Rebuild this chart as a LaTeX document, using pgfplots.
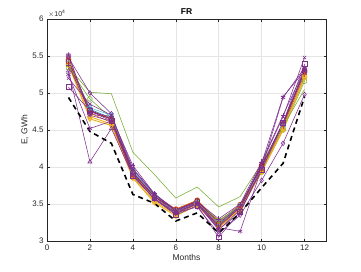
\documentclass[border=0pt]{standalone}
\usepackage{pgfplots}
\pgfplotsset{compat=1.18}
\usepackage{fontspec}
\setmainfont{Liberation Sans}
\definecolor{mb}{rgb}{0,0.447,0.741}
\definecolor{mo}{rgb}{0.85,0.325,0.098}
\definecolor{my}{rgb}{0.929,0.694,0.125}
\definecolor{mp}{rgb}{0.494,0.184,0.556}
\definecolor{mg}{rgb}{0.466,0.674,0.188}
\definecolor{ml}{rgb}{0.301,0.745,0.933}
\definecolor{mr}{rgb}{0.635,0.078,0.184}
\definecolor{ax}{rgb}{0.15,0.15,0.15}
\begin{document}
\begin{tikzpicture}
\useasboundingbox (-47pt,-30pt) rectangle (314pt,241pt);
\begin{axis}[
  at={(0,0)}, anchor=south west,
  scale only axis, width=279pt, height=222pt,
  xmin=0, xmax=13, ymin=3, ymax=6,
  xtick={0,2,4,6,8,10,12},
  ytick={3,3.5,4,4.5,5,5.5,6},
  yticklabel style={/pgf/number format/fixed},
  /pgf/number format/assume math mode=true,
  tick align=inside, tick style={ax, line width=0.4pt}, major tick length=2.5pt,
  axis line style={ax, line width=0.4pt},
  grid=major, grid style={gray!20, line width=0.4pt},
  ticklabel style={font=\fontsize{8}{9}\selectfont, text=ax},
  xlabel={Months}, ylabel={E, GWh},
  label style={font=\fontsize{8.5}{10}\selectfont, text=ax},
  xlabel style={yshift=3pt}, ylabel style={yshift=-3pt},
  title={\textbf{FR}}, title style={font=\fontsize{8.5}{10}\selectfont, yshift=-5pt},
  every axis plot/.append style={line width=0.55pt, mark size=2.4pt},
  clip=false,
]
\addplot[mb, mark=o] coordinates {(1,5.42)(2,4.78)(3,4.66)(4,3.92)(5,3.60)(6,3.40)(7,3.53)(8,3.22)(9,3.47)(10,3.99)(11,4.57)(12,5.28)};
\addplot[mo, mark=o, line width=0.9pt] coordinates {(1,5.45)(2,4.76)(3,4.65)(4,3.90)(5,3.61)(6,3.43)(7,3.55)(8,3.26)(9,3.49)(10,4.00)(11,4.58)(12,5.30)};
\addplot[my, mark=o, line width=0.9pt] coordinates {(1,5.38)(2,4.68)(3,4.58)(4,3.86)(5,3.54)(6,3.36)(7,3.50)(8,3.19)(9,3.44)(10,3.95)(11,4.52)(12,5.22)};
\addplot[mp, mark=o] coordinates {(1,5.50)(2,4.72)(3,4.66)(4,3.95)(5,3.62)(6,3.40)(7,3.54)(8,3.18)(9,3.46)(10,4.02)(11,4.60)(12,5.32)};
\addplot[mg, mark=o] coordinates {(1,5.34)(2,4.92)(3,4.66)(4,3.92)(5,3.62)(6,3.40)(7,3.53)(8,3.28)(9,3.47)(10,3.93)(11,4.50)(12,5.16)};
\addplot[ml, mark=o] coordinates {(1,5.40)(2,4.80)(3,4.70)(4,3.95)(5,3.62)(6,3.41)(7,3.52)(8,3.25)(9,3.48)(10,3.98)(11,4.55)(12,5.27)};
\addplot[mr, mark=o] coordinates {(1,5.43)(2,4.77)(3,4.64)(4,3.93)(5,3.60)(6,3.42)(7,3.54)(8,3.24)(9,3.47)(10,4.02)(11,4.58)(12,5.29)};
\addplot[my, mark=diamond, line width=0.9pt] coordinates {(1,5.38)(2,4.65)(3,4.56)(4,3.85)(5,3.52)(6,3.34)(7,3.48)(8,3.18)(9,3.42)(10,3.93)(11,4.50)(12,5.20)};
\addplot[mo, mark=+] coordinates {(1,5.40)(2,4.73)(3,4.60)(4,3.88)(5,3.58)(6,3.38)(7,3.52)(8,3.21)(9,3.45)(10,3.96)(11,4.55)(12,5.25)};
\addplot[mg, mark=none] coordinates {(1,5.35)(2,5.01)(3,4.99)(4,4.20)(5,3.90)(6,3.58)(7,3.73)(8,3.46)(9,3.60)(10,4.05)(11,4.55)(12,5.05)};
\addplot[mp, mark=x] coordinates {(1,5.20)(2,4.85)(3,4.70)(4,3.98)(5,3.64)(6,3.40)(7,3.50)(8,3.15)(9,3.42)(10,4.05)(11,4.68)(12,5.48)};
\addplot[mp, mark=square] coordinates {(1,5.08)(2,4.76)(3,4.62)(4,3.88)(5,3.58)(6,3.35)(7,3.48)(8,3.05)(9,3.40)(10,3.96)(11,4.60)(12,5.39)};
\addplot[mp, mark=diamond] coordinates {(1,5.48)(2,5.00)(3,4.72)(4,3.92)(5,3.60)(6,3.38)(7,3.46)(8,3.10)(9,3.35)(10,3.82)(11,4.32)(12,4.98)};
\addplot[mp, mark=asterisk] coordinates {(1,5.25)(2,4.52)(3,4.62)(4,3.90)(5,3.56)(6,3.37)(7,3.50)(8,3.18)(9,3.13)(10,3.98)(11,4.94)(12,5.34)};
\addplot[mp, mark=triangle] coordinates {(1,5.30)(2,4.07)(3,4.52)(4,3.88)(5,3.57)(6,3.38)(7,3.51)(8,3.16)(9,3.38)(10,4.00)(11,4.60)(12,5.30)};
\addplot[mp, mark=+] coordinates {(1,5.38)(2,4.74)(3,4.68)(4,4.02)(5,3.64)(6,3.42)(7,3.53)(8,3.30)(9,3.50)(10,4.07)(11,4.70)(12,5.32)};
\addplot[mp, mark=star] coordinates {(1,5.52)(2,4.70)(3,4.62)(4,3.97)(5,3.63)(6,3.41)(7,3.52)(8,3.20)(9,3.46)(10,4.05)(11,4.95)(12,5.30)};
\addplot[black, dashed, line width=1.6pt, dash pattern=on 5pt off 4pt, mark=none] coordinates {(1,4.94)(2,4.48)(3,4.32)(4,3.63)(5,3.51)(6,3.27)(7,3.38)(8,3.11)(9,3.38)(10,3.72)(11,4.05)(12,4.95)};
\node[anchor=south west, font=\fontsize{7}{8}\selectfont, text=ax, inner sep=1pt] at (rel axis cs:0,1) {$\times$10\textsuperscript{4}};
\end{axis}
\end{tikzpicture}
\end{document}
